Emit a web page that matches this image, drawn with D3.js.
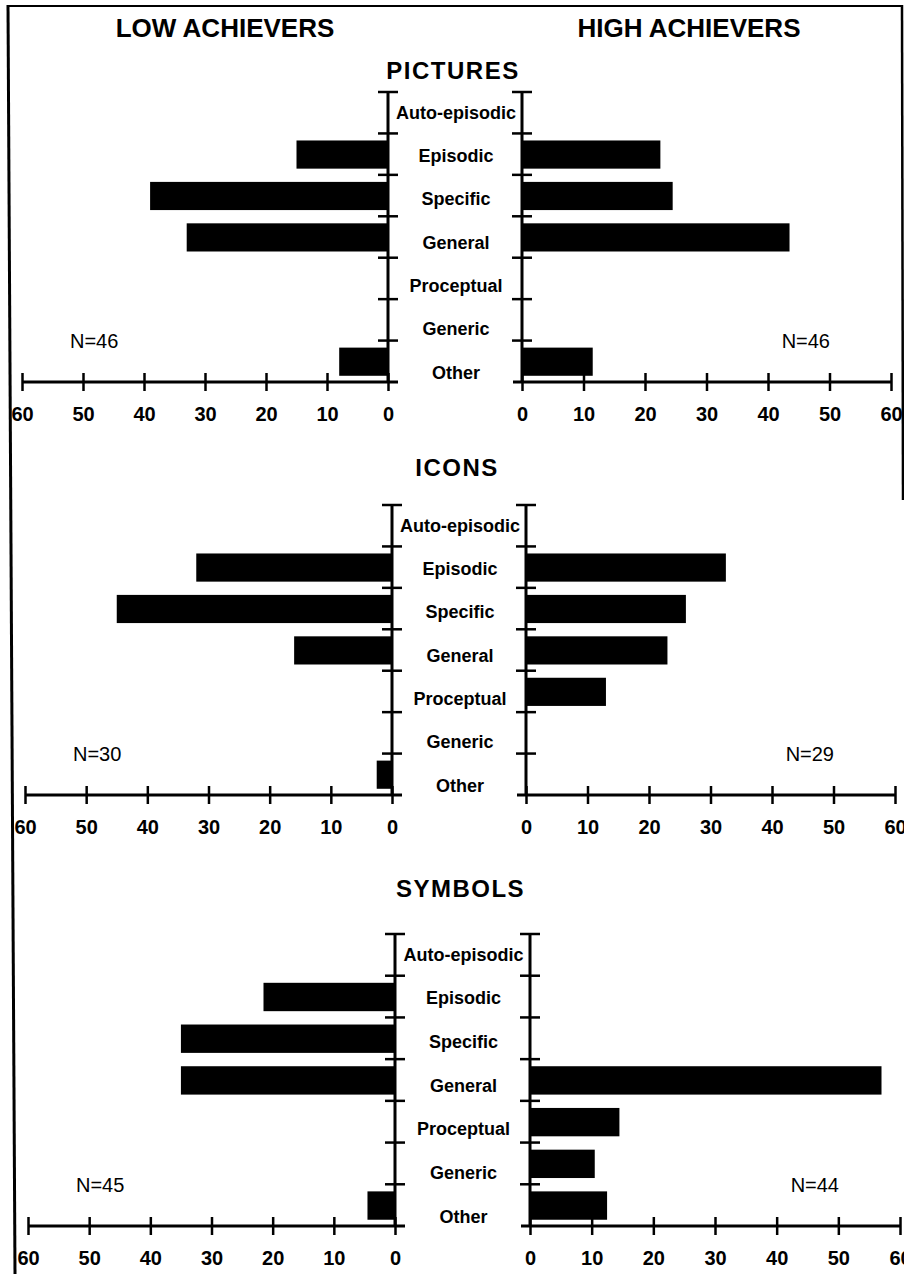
<!DOCTYPE html>
<html><head><meta charset="utf-8">
<script src="https://cdn.jsdelivr.net/npm/d3@7"></script>
<style>
body{margin:0;background:#fff}
svg{display:block}
text{font-family:"Liberation Sans",Arial,Helvetica,sans-serif;fill:#000}
</style>
</head><body>
<svg id="c" width="904" height="1274"></svg>
<script>
// ---- data ----
const categories = ["Auto-episodic","Episodic","Specific","General","Proceptual","Generic","Other"];
const groupTitles = ["LOW ACHIEVERS","HIGH ACHIEVERS"];
const panelTitles = ["PICTURES","ICONS","SYMBOLS"];
const picturesLow  = [0, 15, 39, 33, 0, 0, 8];
const picturesHigh = [0, 22.5, 24.5, 43.5, 0, 0, 11.5];
const iconsLow     = [0, 32, 45, 16, 0, 0, 2.5];
const iconsHigh    = [0, 32.5, 26, 23, 13, 0, 0];
const symbolsLow   = [0, 21.5, 35, 35, 0, 0, 4.5];
const symbolsHigh  = [0, 0, 0, 57, 14.5, 10.5, 12.5];
const nLow  = [46, 30, 45];
const nHigh = [46, 29, 44];
const xTickValues = [0, 10, 20, 30, 40, 50, 60];

const lowSeries  = [picturesLow, iconsLow, symbolsLow];
const highSeries = [picturesHigh, iconsHigh, symbolsHigh];

// ---- layout (positions only) ----
const layout = [
  {titleY: 79,  top: 92,  axisY: 382,  lz: 388, l60: 22, rz: 522, r60: 891},
  {titleY: 476, top: 505, axisY: 795,  lz: 392, l60: 25, rz: 526, r60: 895},
  {titleY: 897, top: 934, axisY: 1226, lz: 395, l60: 28, rz: 530, r60: 900}
];

const svg = d3.select("#c");
svg.append("rect").attr("width",904).attr("height",1274).attr("fill","#fff");

// frame
svg.append("line").attr("x1",8).attr("y1",5).attr("x2",15).attr("y2",1274).attr("stroke","#000").attr("stroke-width",3);
svg.append("line").attr("x1",7).attr("y1",6).attr("x2",903).attr("y2",6).attr("stroke","#000").attr("stroke-width",2);
svg.append("line").attr("x1",902).attr("y1",5).attr("x2",903).attr("y2",500).attr("stroke","#000").attr("stroke-width",2.5);

// group headers
svg.selectAll("text.hdr").data(groupTitles).join("text").attr("class","hdr")
  .attr("x",(d,i)=> i===0 ? 225 : 689).attr("y",37)
  .attr("text-anchor","middle").attr("font-size",26).attr("font-weight","bold").text(d=>d);

layout.forEach((L, i) => {
  const g = svg.append("g");
  const y = d3.scaleBand().domain(categories).range([L.top, L.axisY]);
  const yl = d3.scalePoint().domain(categories).range([L.top + 20, L.axisY - 10]);
  const xl = d3.scaleLinear().domain([0, 60]).range([L.lz, L.l60]);
  const xr = d3.scaleLinear().domain([0, 60]).range([L.rz, L.r60]);
  const bw = y.bandwidth();

  // panel title
  g.append("text").attr("x", (L.lz + L.rz) / 2 - 2).attr("y", L.titleY)
    .attr("text-anchor","middle").attr("font-size",24).attr("font-weight","bold")
    .attr("letter-spacing",1.5).text(panelTitles[i]);

  // bars
  const lowData = categories.map((c, j) => ({c, v: lowSeries[i][j]})).filter(d => d.v > 0);
  const highData = categories.map((c, j) => ({c, v: highSeries[i][j]})).filter(d => d.v > 0);
  g.selectAll("rect.lo").data(lowData).join("rect").attr("class","lo")
    .attr("x", d => xl(d.v)).attr("width", d => xl(0) - xl(d.v))
    .attr("y", d => y(d.c) + bw * 0.17).attr("height", bw * 0.68).attr("fill","#000");
  g.selectAll("rect.hi").data(highData).join("rect").attr("class","hi")
    .attr("x", xr(0)).attr("width", d => xr(d.v) - xr(0))
    .attr("y", d => y(d.c) + bw * 0.17).attr("height", bw * 0.68).attr("fill","#000");

  // vertical category axes
  [xl(0), xr(0)].forEach(ax => {
    g.append("line").attr("x1", ax).attr("x2", ax).attr("y1", L.top).attr("y2", L.axisY)
      .attr("stroke","#000").attr("stroke-width",3);
    g.selectAll(null).data(categories).join("line")
      .attr("x1", ax - 10).attr("x2", ax + 10)
      .attr("y1", d => y(d)).attr("y2", d => y(d))
      .attr("stroke","#000").attr("stroke-width",2.5);
  });

  // category labels
  g.selectAll("text.cat").data(categories).join("text").attr("class","cat")
    .attr("x", (xl(0) + xr(0)) / 2 + 1).attr("y", d => yl(d) + 6.5)
    .attr("text-anchor","middle").attr("font-size",18).attr("font-weight","bold").text(d => d);

  // x axes
  function styleAxis(sel) {
    sel.select(".domain").remove();
    sel.selectAll(".tick line").attr("y1", -9).attr("y2", 9).attr("stroke","#000").attr("stroke-width",2.5);
    sel.selectAll(".tick text").attr("y", 39).attr("dy", 0)
      .attr("font-size", 20).attr("font-weight","bold").attr("fill","#000")
      .attr("font-family", '"Liberation Sans",Arial,Helvetica,sans-serif');
  }
  const axL = g.append("g").attr("transform", `translate(0,${L.axisY})`)
    .call(d3.axisBottom(xl).tickValues(xTickValues).tickSize(9).tickFormat(d3.format("d")));
  styleAxis(axL);
  axL.append("line").attr("x1", xl(60)).attr("x2", xl(0) + 10).attr("y1", 0).attr("y2", 0)
    .attr("stroke","#000").attr("stroke-width",3);
  const axR = g.append("g").attr("transform", `translate(0,${L.axisY})`)
    .call(d3.axisBottom(xr).tickValues(xTickValues).tickSize(9).tickFormat(d3.format("d")));
  styleAxis(axR);
  axR.append("line").attr("x1", xr(0) - 9).attr("x2", xr(60)).attr("y1", 0).attr("y2", 0)
    .attr("stroke","#000").attr("stroke-width",3);

  // N labels
  g.append("text").attr("x", xl(60) + 48).attr("y", L.axisY - 34)
    .attr("font-size", 20).text("N=" + nLow[i]);
  g.append("text").attr("x", xr(60) - 61).attr("y", L.axisY - 34).attr("text-anchor","end")
    .attr("font-size", 20).text("N=" + nHigh[i]);
});
</script>
</body></html>
